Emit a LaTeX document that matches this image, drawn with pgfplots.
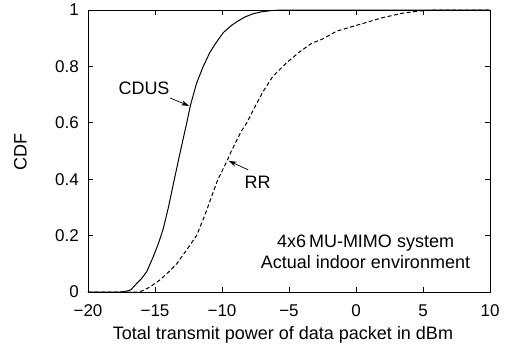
\documentclass[border=0pt]{standalone}
\usepackage{fontspec}
\setmainfont{Liberation Sans}
\usepackage{pgfplots}
\pgfplotsset{compat=1.18}
\usetikzlibrary{arrows.meta}
\pgfplotstableread{
x y
-20 0
-17.6 0
-17.2 0.002
-16.8 0.008
-16.37 0.03
-16.0 0.048
-15.62 0.072
-15.13 0.125
-14.7 0.178
-14.38 0.225
-14.0 0.3
-13.6 0.39
-13.1 0.5
-12.63 0.6
-12.35 0.663
-11.9 0.74
-11.4 0.8
-10.9 0.85
-10.4 0.887
-9.9 0.92
-9.3 0.945
-8.9 0.958
-8.3 0.975
-7.66 0.987
-7.0 0.994
-6.3 0.998
-5.5 1
10 1
}\cdus
\pgfplotstableread{
x y
-20 0
-16.2 0
-15.9 0.005
-15.4 0.017
-14.63 0.043
-14.0 0.07
-13.38 0.10
-12.7 0.145
-11.9 0.2
-11.3 0.27
-10.8 0.335
-10.3 0.40
-9.65 0.462
-9.3 0.50
-8.6 0.567
-8.15 0.60
-7.54 0.657
-6.92 0.712
-6.2 0.765
-5.2 0.812
-4.2 0.852
-3.3 0.882
-2.5 0.897
-1.44 0.925
0 0.945
0.92 0.958
2.0 0.973
3.4 0.988
4.6 0.996
5.9 1
10 1
}\rr
\begin{document}
\begin{tikzpicture}
\begin{axis}[
 name=ax, at={(0,0)}, anchor=south west,
 scale only axis, width=402pt, height=282pt,
 xmin=-20, xmax=10, ymin=0, ymax=1,
 xtick={-20,-15,...,10}, xticklabels={−20,−15,−10,−5,0,5,10},
 ytick={0,0.2,0.4,0.6,0.8,1}, yticklabels={0,0.2,0.4,0.6,0.8,1},
 tick align=inside, major tick length=5pt,
 tick style={black, line width=0.8pt},
 axis line style={line width=0.9pt},
 xticklabel style={font=\fontsize{17}{20}\selectfont, anchor=base, inner sep=0pt, yshift=-24pt},
 yticklabel style={font=\fontsize{17}{20}\selectfont, anchor=east, inner sep=0pt, xshift=-9pt},
 xlabel={Total transmit power of data packet in dBm},
 ylabel={CDF},
 xlabel style={font=\fontsize{18}{21}\selectfont, at={(axis description cs:0.485,-0.170)}, anchor=base, inner sep=0pt},
 ylabel style={font=\fontsize{18}{21}\selectfont, at={(axis description cs:-0.1525,0.496)}, anchor=base, inner sep=0pt},
 clip=false,
]
\addplot[black, line width=1pt] table[x=x,y=y] {\cdus};
\addplot[black, line width=1pt, dash pattern=on 4pt off 2.5pt] table[x=x,y=y] {\rr};
\node[font=\fontsize{18}{21}\selectfont, anchor=base, inner sep=0pt] at (axis cs:-15.82,0.6986) {CDUS};
\draw[-{Stealth[length=8pt,width=5pt]}, line width=0.7pt] (axis cs:-13.88,0.688) -- (axis cs:-12.45,0.66);
\node[font=\fontsize{18}{21}\selectfont, anchor=base, inner sep=0pt] at (axis cs:-7.35,0.368) {RR};
\draw[-{Stealth[length=8pt,width=5pt]}, line width=0.7pt] (axis cs:-8.04,0.433) -- (axis cs:-9.5,0.465);
\node[font=\fontsize{18}{21}\selectfont, anchor=base, inner sep=0pt] at (axis cs:0.71,0.1585) {4x6\,MU-MIMO system};
\node[font=\fontsize{18}{21}\selectfont, anchor=base, inner sep=0pt] at (axis cs:0.71,0.0816) {Actual indoor environment};
\end{axis}
\pgfresetboundingbox
\path[use as bounding box] (-88pt,-57pt) rectangle (423pt,292pt);
\end{tikzpicture}
\end{document}
